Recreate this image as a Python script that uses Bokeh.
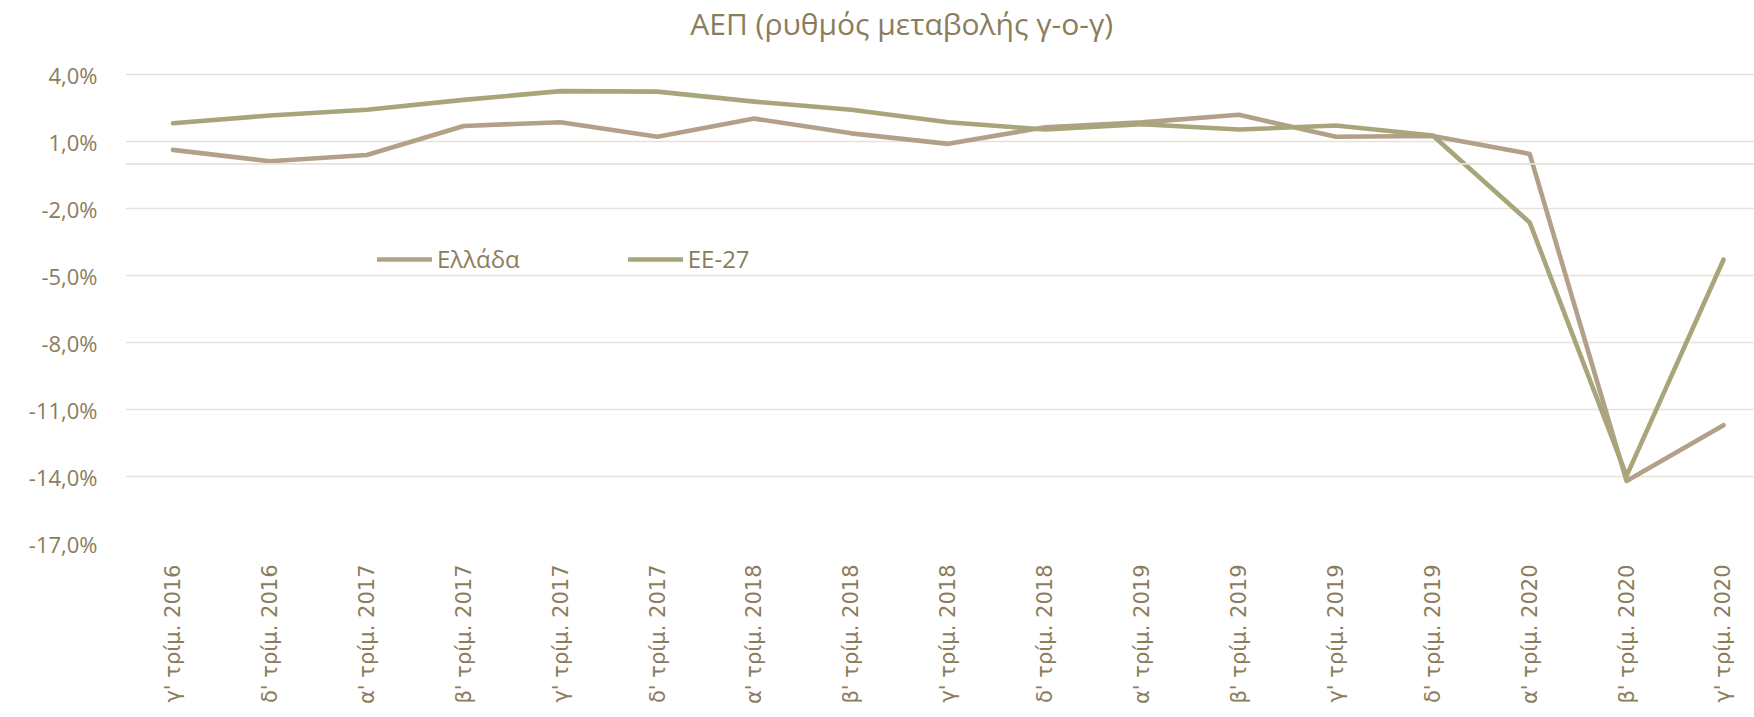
from bokeh.plotting import figure
from bokeh.models import Range1d, FixedTicker, Span, Label, Legend, LegendItem
from bokeh.embed import file_html
from bokeh.resources import INLINE
import math

categories = ["γ' τρίμ. 2016", "δ' τρίμ. 2016", "α' τρίμ. 2017", "β' τρίμ. 2017",
              "γ' τρίμ. 2017", "δ' τρίμ. 2017", "α' τρίμ. 2018", "β' τρίμ. 2018",
              "γ' τρίμ. 2018", "δ' τρίμ. 2018", "α' τρίμ. 2019", "β' τρίμ. 2019",
              "γ' τρίμ. 2019", "δ' τρίμ. 2019", "α' τρίμ. 2020", "β' τρίμ. 2020",
              "γ' τρίμ. 2020"]
greece = [0.63, 0.12, 0.40, 1.70, 1.87, 1.22, 2.03, 1.37, 0.90, 1.64, 1.86, 2.20,
          1.22, 1.25, 0.45, -14.2, -11.7]
eu27 = [1.82, 2.17, 2.43, 2.87, 3.26, 3.24, 2.79, 2.43, 1.87, 1.54, 1.78, 1.54,
        1.72, 1.27, -2.62, -13.97, -4.29]
y_ticks = [-17, -14, -11, -8, -5, -2, 1, 4]
y_labels = ["-17,0%", "-14,0%", "-11,0%", "-8,0%", "-5,0%", "-2,0%", "1,0%", "4,0%"]
title_text = "ΑΕΠ (ρυθμός μεταβολής γ-ο-γ)"
series_names = ["Ελλάδα", "ΕΕ-27"]

TEXT = "#8b7d5c"
GRID = "#e6e2d8"
C_GR = "#b3a089"
C_EU = "#a9a57b"

x = list(range(len(categories)))

p = figure(width=1754, height=717, output_backend="svg", toolbar_location=None,
           x_range=Range1d(-0.49, 16.32), y_range=Range1d(-17, 7.32),
           min_border_left=125, min_border_right=0, min_border_top=0, min_border_bottom=174)
p.outline_line_color = None
p.background_fill_color = "white"
p.border_fill_color = "white"

# y axis
p.yaxis.ticker = FixedTicker(ticks=y_ticks)
p.yaxis.major_label_overrides = {t: l for t, l in zip(y_ticks, y_labels)}
p.yaxis.axis_line_color = None
p.yaxis.major_tick_line_color = None
p.yaxis.minor_tick_line_color = None
p.yaxis.major_tick_out = 0
p.yaxis.major_label_standoff = 28
p.yaxis.major_label_text_font = "Open Sans"
p.yaxis.major_label_text_font_size = "22px"
p.yaxis.major_label_text_color = TEXT

# x axis
p.xaxis.ticker = FixedTicker(ticks=x)
p.xaxis.major_label_overrides = {i: c for i, c in enumerate(categories)}
p.xaxis.major_label_orientation = math.pi / 2
p.xaxis.axis_line_color = None
p.xaxis.major_tick_line_color = None
p.xaxis.minor_tick_line_color = None
p.xaxis.major_tick_out = 0
p.xaxis.major_label_standoff = 21
p.xaxis.major_label_text_font = "DejaVu Sans"
p.xaxis.major_label_text_font_size = "21px"
p.xaxis.major_label_text_color = TEXT

p.xgrid.grid_line_color = None
p.ygrid.grid_line_color = GRID
p.ygrid.grid_line_width = 1.6

p.add_layout(Span(location=0, dimension="width", line_color=GRID, line_width=1.8))

r_gr = p.line(x, greece, line_color=C_GR, line_width=4.6, line_cap="round", line_join="round")
r_eu = p.line(x, eu27, line_color=C_EU, line_width=4.6, line_cap="round", line_join="round")

legend = Legend(items=[LegendItem(label=series_names[0], renderers=[r_gr]),
                       LegendItem(label=series_names[1], renderers=[r_eu])],
                location=(252, 268), orientation="horizontal",
                glyph_width=55, glyph_height=24, label_height=24, label_standoff=5,
                spacing=108, padding=0, margin=0,
                background_fill_alpha=0, border_line_color=None,
                label_text_font="Open Sans", label_text_font_size="24px",
                label_text_color=TEXT)
p.add_layout(legend)

p.add_layout(Label(x=7.52, y=6.27, text=title_text, text_align="center",
                   text_baseline="middle", text_font="Open Sans",
                   text_font_size="30px", text_color=TEXT))

open("out.html", "w").write(file_html(p, INLINE))
